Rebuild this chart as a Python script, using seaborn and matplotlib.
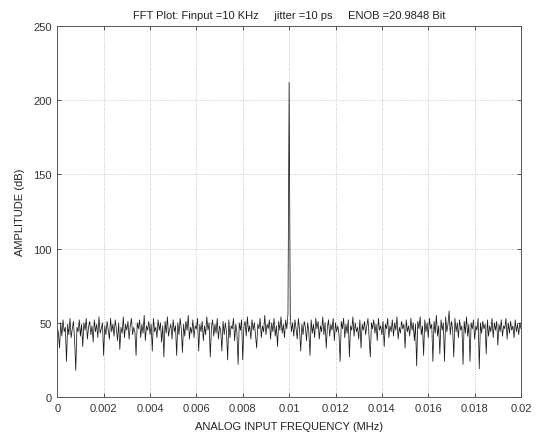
import numpy as np
import pandas as pd
import matplotlib
matplotlib.use("Agg")
import matplotlib.pyplot as plt
import seaborn as sns

# ---- data ----
f_start = 0.0
f_stop = 0.02
amplitude_db = [
    48, 43, 33, 50, 41, 52, 44, 47, 24, 49, 42, 53, 40, 46, 51, 38, 18, 47, 44, 52,
    41, 49, 34, 50, 45, 53, 39, 47, 51, 42, 48, 37, 52, 44, 49, 40, 54, 43, 46, 50,
    28, 48, 42, 51, 45, 39, 53, 44, 49, 41, 52, 46, 38, 50, 32, 47, 43, 54, 40, 49,
    45, 51, 39, 48, 53, 42, 47, 44, 28, 50, 46, 52, 40, 49, 43, 55, 38, 48, 45, 51,
    42, 49, 31, 53, 44, 47, 40, 52, 45, 50, 37, 48, 27, 51, 43, 54, 41, 46, 49, 39,
    52, 44, 48, 28, 50, 42, 53, 46, 30, 49, 41, 51, 45, 55, 39, 47, 43, 52, 40, 48,
    46, 53, 31, 49, 44, 51, 38, 48, 42, 54, 45, 50, 27, 47, 52, 41, 49, 43, 53, 39,
    48, 45, 31, 51, 42, 50, 44, 25, 52, 40, 48, 46, 53, 38, 49, 43, 22, 50, 45, 52,
    25, 47, 51, 41, 54, 44, 48, 39, 52, 45, 50, 42, 33, 49, 46, 53, 40, 48, 44, 55,
    42, 49, 46, 52, 39, 50, 44, 53, 41, 48, 34, 51, 45, 54, 43, 49, 40, 52, 46, 56,
    212, 55, 44, 50, 41, 52, 46, 39, 53, 45, 31, 49, 42, 51, 47, 38, 50, 44, 28, 52,
    43, 49, 40, 53, 46, 51, 39, 48, 44, 54, 42, 50, 33, 47, 52, 41, 49, 45, 53, 38,
    50, 44, 48, 42, 24, 51, 46, 53, 40, 49, 43, 52, 27, 48, 45, 54, 41, 50, 44, 47,
    39, 52, 33, 49, 45, 51, 42, 48, 53, 40, 27, 50, 46, 52, 43, 49, 38, 53, 45, 48,
    42, 51, 34, 49, 46, 53, 40, 48, 44, 52, 41, 50, 45, 54, 39, 47, 43, 51, 46, 49,
    33, 52, 44, 48, 41, 53, 45, 50, 38, 49, 21, 51, 46, 54, 42, 48, 28, 52, 44, 50,
    40, 53, 46, 49, 24, 51, 43, 55, 41, 48, 29, 52, 45, 50, 24, 54, 44, 49, 58, 42,
    51, 46, 27, 53, 44, 50, 40, 52, 45, 48, 22, 51, 43, 54, 41, 49, 24, 50, 46, 52,
    39, 48, 45, 53, 19, 50, 43, 51, 46, 49, 29, 52, 41, 48, 44, 53, 40, 50, 45, 51,
    35, 49, 44, 52, 41, 48, 46, 53, 39, 50, 43, 51, 45, 48, 40, 52, 44, 49, 42, 50,
    46,
]
x_ticks = [0, 0.002, 0.004, 0.006, 0.008, 0.01, 0.012, 0.014, 0.016, 0.018, 0.02]
x_tick_labels = ["0", "0.002", "0.004", "0.006", "0.008", "0.01",
                 "0.012", "0.014", "0.016", "0.018", "0.02"]
y_ticks = [0, 50, 100, 150, 200, 250]

title = "FFT Plot: Finput =10 KHz     jitter =10 ps     ENOB =20.9848 Bit"
x_label = "ANALOG INPUT FREQUENCY (MHz)"
y_label = "AMPLITUDE (dB)"

freq = np.linspace(f_start, f_stop, len(amplitude_db))
df = pd.DataFrame({"freq": freq, "amp": amplitude_db})

# ---- plot ----
sns.set_style("white")
plt.rcParams["font.family"] = ["Liberation Sans", "DejaVu Sans"]

fig = plt.figure(figsize=(5.45, 4.35), dpi=100)
ax = fig.add_axes([0.105, 0.085, 0.851, 0.853])

sns.lineplot(data=df, x="freq", y="amp", color="#1a1a1a", linewidth=0.55,
             ax=ax, estimator=None, sort=False)

ax.set_xlim(0, 0.02)
ax.set_ylim(0, 250)
ax.set_xticks(x_ticks)
ax.set_xticklabels(x_tick_labels)
ax.set_yticks(y_ticks)

ax.grid(True, linestyle=(0, (1, 2)), color="#b0b0b0", linewidth=0.6)
ax.tick_params(direction="in", length=3, width=0.6, labelsize=8,
               colors="#333333", top=True, right=True, bottom=True, left=True,
               pad=4)
for s in ax.spines.values():
    s.set_visible(True)
    s.set_color("#555555")
    s.set_linewidth(0.7)

ax.set_title(title, fontsize=8, color="#222222", pad=6)
ax.set_xlabel(x_label, fontsize=8, color="#222222", labelpad=6)
ax.set_ylabel(y_label, fontsize=8, color="#222222", labelpad=6)

fig.savefig("out.png", dpi=100)
